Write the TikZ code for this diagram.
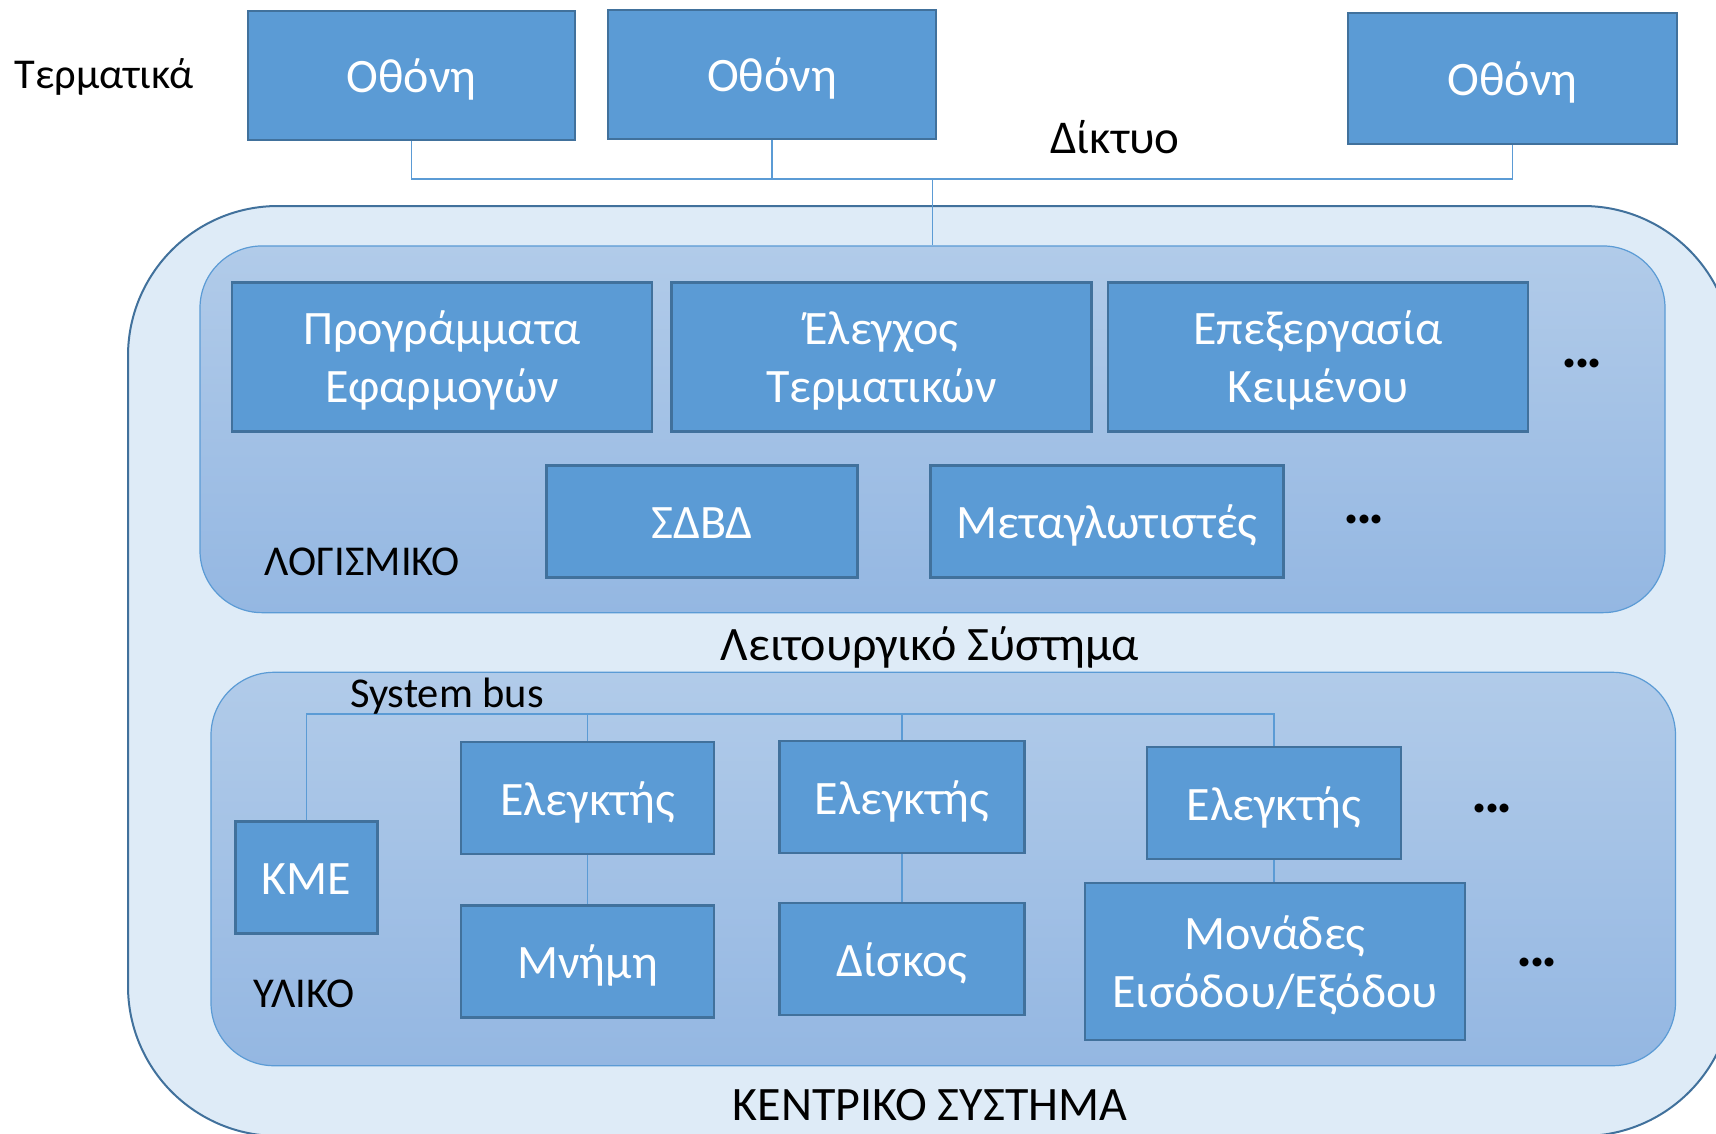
\documentclass[tikz,border=0pt]{standalone}
\usepackage{fontspec}
\setmainfont{Carlito}
\definecolor{boxfill}{HTML}{5B9BD5}
\definecolor{boxline}{HTML}{41719C}
\definecolor{outerfill}{HTML}{DEEBF7}
\definecolor{layertop}{HTML}{B1CBE9}
\definecolor{layerbot}{HTML}{94B7E2}
\definecolor{wirecol}{HTML}{5B9BD5}
\newcommand{\boxfont}{\fontsize{48}{57.6}\selectfont}
\newcommand{\dotsfont}{\fontsize{60}{60}\bfseries\selectfont}
\newcommand{\lblsize}[1]{\fontsize{#1}{#1}\selectfont}
% three heavy, tightly set dots
\newcommand{\moredots}{.\kern-4pt.\kern-4pt.}

\begin{document}
\begin{tikzpicture}[x=1pt,y=-1pt,
  unit/.style={draw=boxline, line width=2.5pt, fill=boxfill, text=white,
    font=\boxfont, inner sep=0pt, align=center, text height=41pt, text depth=7pt},
  unittwo/.style={unit, text height=100pt, text depth=9pt},
  wire/.style={draw=wirecol, line width=1.5pt},
  layer/.style={draw=wirecol, line width=1.2pt, top color=layertop,
    bottom color=layerbot, inner sep=0pt},
  lbl/.style={anchor=base, inner sep=0pt, text=black},
  more/.style={anchor=base, inner sep=0pt, text=black, font=\dotsfont}
]
\useasboundingbox (0,0) rectangle (1716,1133);
\clip (0,0) rectangle (1716,1133);

% central system frame (runs past the right and bottom edges)
\node[draw=boxline, line width=2pt, fill=outerfill, rounded corners=150pt,
  inner sep=0pt, minimum width=1605pt, minimum height=930pt] (central) at (930.5,671) {};

% software and hardware layers
\node[layer, rounded corners=62pt, minimum width=1465pt, minimum height=366.7pt] (software) at (932.5,429.3) {};
\node[layer, rounded corners=63pt, minimum width=1464.5pt, minimum height=393.4pt] (hardware) at (943.25,869) {};

% terminals
\node[unit, minimum width=327pt, minimum height=129pt] (o1) at (411.5,75.5) {Οθόνη};
\node[unit, minimum width=328pt, minimum height=129pt] (o2) at (772,74.5) {Οθόνη};
\node[unit, minimum width=329pt, minimum height=131pt] (o3) at (1512.5,78.5) {Οθόνη};

% software modules
\node[unittwo, minimum width=420pt, minimum height=149pt] (apps) at (442,357) {Προγράμματα\\Εφαρμογών};
\node[unittwo, minimum width=420pt, minimum height=149pt] (termctl) at (881.5,357) {Έλεγχος\\Τερματικών};
\node[unittwo, minimum width=420pt, minimum height=149pt] (editor) at (1318,357) {Επεξεργασία\\Κειμένου};
\node[unit, minimum width=311pt, minimum height=112pt] (dbms) at (702,521.7) {ΣΔΒΔ};
\node[unit, minimum width=353pt, minimum height=112pt] (compilers) at (1107,521.7) {Μεταγλωτιστές};

% hardware modules
\node[unit, minimum width=142pt, minimum height=112pt] (cpu) at (306.7,877.5) {ΚΜΕ};
\node[unit, minimum width=253pt, minimum height=112pt] (ctl1) at (587.5,798) {Ελεγκτής};
\node[unit, minimum width=253pt, minimum height=112pt] (mem) at (587.5,961.7) {Μνήμη};
\node[unit, minimum width=245pt, minimum height=112pt] (ctl2) at (902,797) {Ελεγκτής};
\node[unit, minimum width=245pt, minimum height=112pt] (disk) at (902,959) {Δίσκος};
\node[unit, minimum width=254pt, minimum height=112pt] (ctl3) at (1274,803) {Ελεγκτής};
\node[unittwo, minimum width=380pt, minimum height=157pt] (io) at (1275,961.5) {Μονάδες\\Εισόδου/Εξόδου};

% network
\coordinate (net) at (932.7,179);
\draw[wire] (o1.south) |- (net);
\draw[wire] (o2.south) |- (net);
\draw[wire] (o3.south) |- (net);
\draw[wire] (net) -- (net |- software.north);

% system bus
\coordinate (busy) at (0,714);
\draw[wire] (cpu.north) |- (ctl3.north |- busy) -- (ctl3.north);
\draw[wire] (ctl1.north) -- (ctl1.north |- busy);
\draw[wire] (ctl2.north) -- (ctl2.north |- busy);
\draw[wire] (ctl1.south) -- (mem.north);
\draw[wire] (ctl2.south) -- (disk.north);
\draw[wire] (ctl3.south) -- (ctl3.south |- io.north);

% labels
\node[lbl, font=\lblsize{42.5}] (tlabel) at (104,88) {Τερματικά};
\node[lbl, font=\lblsize{47}] (netlabel) at (1115,153) {Δίκτυο};
\node[lbl, font=\lblsize{42.5}] (swlabel) at (362.5,575.7) {ΛΟΓΙΣΜΙΚΟ};
\node[lbl, font=\lblsize{48}] (oslabel) at (930,660.7) {Λειτουργικό Σύστημα};
\node[lbl, font=\lblsize{42.5}] (buslabel) at (447,707.3) {System bus};
\node[lbl, font=\lblsize{42.5}] (hwlabel) at (304,1007) {ΥΛΙΚΟ};
\node[lbl, font=\lblsize{48}] (centrallabel) at (930,1120) {ΚΕΝΤΡΙΚΟ ΣΥΣΤΗΜΑ};

% continuation marks
\node[more] (more1) at (1582,367.5) {\moredots};
\node[more] (more2) at (1364,523) {\moredots};
\node[more] (more3) at (1492,812) {\moredots};
\node[more] (more4) at (1537,966) {\moredots};
\end{tikzpicture}
\end{document}
